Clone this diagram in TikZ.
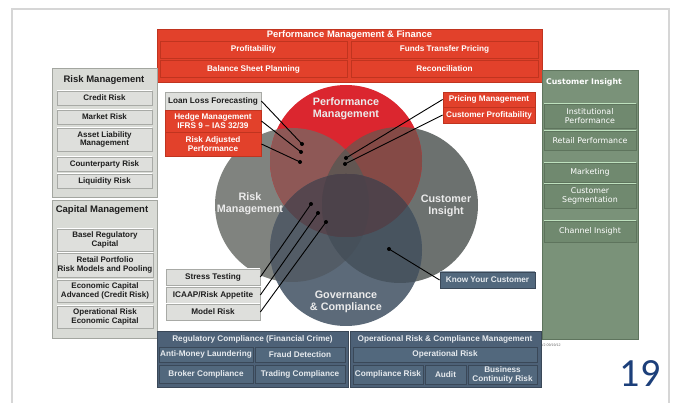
\documentclass[tikz,border=0pt]{standalone}
\usepackage{fontspec}
\setmainfont{Liberation Sans}
\newfontfamily\dvsans{DejaVu Sans}
\newfontfamily\pagefont{Carlito}

% palette
\definecolor{framegrey}{HTML}{D6D6D6}
\definecolor{redbg}{HTML}{E2412B}
\definecolor{redline}{HTML}{C0341F}
\definecolor{greybg}{HTML}{D9DBD6}
\definecolor{greyedge}{HTML}{A3A6A0}
\definecolor{greyfill}{HTML}{DEDFDC}
\definecolor{greyline}{HTML}{A8AAA6}
\definecolor{inkdark}{HTML}{1E1E1E}
\definecolor{greenbg}{HTML}{7A9279}
\definecolor{greenedge}{HTML}{5E745D}
\definecolor{greenfill}{HTML}{70896F}
\definecolor{bluebg}{HTML}{4D6177}
\definecolor{bluefill}{HTML}{52687D}
\definecolor{blueline}{HTML}{3A4858}
\definecolor{bluetext}{HTML}{E6EAEE}
\definecolor{pagenum}{HTML}{1C3F7A}
% Venn regions
\definecolor{vL}{HTML}{80837F}
\definecolor{vR}{HTML}{6C716F}
\definecolor{vT}{HTML}{DB262F}
\definecolor{vB}{HTML}{5C6A79}
\definecolor{vTL}{HTML}{8E5856}
\definecolor{vTR}{HTML}{854A46}
\definecolor{vBL}{HTML}{535C66}
\definecolor{vBR}{HTML}{48545F}
\definecolor{vTLR}{HTML}{625652}
\definecolor{vTLB}{HTML}{56464E}
\definecolor{vTRB}{HTML}{50424A}
\definecolor{vLRB}{HTML}{46505A}
\definecolor{vAll}{HTML}{4C424A}

\tikzset{
  box/.style={rectangle, inner sep=0pt, align=center,
    font=\bfseries\fontsize{8.2}{9}\selectfont},
  topshine/.style={path picture={
    \draw[#1, line width=1.4pt] (path picture bounding box.north west)
      -- (path picture bounding box.north east);}},
  redpanel/.style={rectangle, fill=redbg, draw=redline, line width=0.6pt},
  redbox/.style={box, fill=redbg, draw=redline, line width=0.8pt, text=white},
  greypanel/.style={rectangle, fill=greybg, draw=greyedge, line width=0.7pt},
  greybox/.style={box, fill=greyfill, draw=greyline, line width=0.7pt,
    text=inkdark, topshine=white, font=\bfseries\fontsize{8}{8.9}\selectfont},
  greenpanel/.style={rectangle, fill=greenbg, draw=greenedge, line width=0.7pt},
  greenbox/.style={rectangle, inner sep=0pt, align=center, fill=greenfill,
    draw=greenedge, line width=0.8pt, text=white, topshine=green!15!white!75!greenfill,
    font=\dvsans\fontsize{7.9}{9.2}\selectfont},
  bluepanel/.style={rectangle, fill=bluebg, draw=blueline, line width=0.7pt},
  bluebox/.style={box, fill=bluefill, draw=blueline, line width=0.8pt,
    text=bluetext, topshine=bluefill!60!white},
  paneltitle/.style={inner sep=0pt, font=\bfseries\fontsize{9.5}{10}\selectfont},
  circlabel/.style={inner sep=0pt, align=center, text=white!92!black,
    font=\bfseries\fontsize{10.8}{12.2}\selectfont},
  link/.style={draw=black, line width=0.9pt},
  dot/.style={fill=black},
}

\begin{document}
\begin{tikzpicture}[x=1pt,y=-1pt]
\useasboundingbox (0,0) rectangle (680,403);
\fill[white] (0,0) rectangle (680,403);
\draw[framegrey, line width=1.6pt] (12,406) -- (12,9) -- (669,9) -- (669,406);

% ---------- Venn diagram ----------
\coordinate (cT) at (346,161);
\coordinate (cL) at (292,205);
\coordinate (cR) at (400,205);
\coordinate (cB) at (346,250);
\fill[vL] (cL) circle[radius=77pt];
\fill[vR] (cR) circle[radius=78pt];
\fill[vT] (cT) circle[radius=76pt];
\fill[vB] (cB) circle[radius=76pt];
\begin{scope}
  \clip (cT) circle[radius=76pt];
  \fill[vTL] (cL) circle[radius=77pt];
  \fill[vTR] (cR) circle[radius=78pt];
  \begin{scope}
    \clip (cL) circle[radius=77pt];
    \fill[vTLR] (cR) circle[radius=78pt];
  \end{scope}
\end{scope}
\begin{scope}
  \clip (cB) circle[radius=76pt];
  \fill[vBL] (cL) circle[radius=77pt];
  \fill[vBR] (cR) circle[radius=78pt];
  \begin{scope}
    \clip (cL) circle[radius=77pt];
    \fill[vLRB] (cR) circle[radius=78pt];
  \end{scope}
  \begin{scope}
    \clip (cT) circle[radius=76pt];
    \fill[vTLB] (cL) circle[radius=77pt];
    \fill[vTRB] (cR) circle[radius=78pt];
    \begin{scope}
      \clip (cL) circle[radius=77pt];
      \fill[vAll] (cR) circle[radius=78pt];
    \end{scope}
  \end{scope}
\end{scope}

\node[circlabel] (lblperf) at (346,109) {Performance\\Management};
\node[circlabel] (lblrisk) at (250,204) {Risk\\Management};
\node[circlabel] (lblcust) at (446,206) {Customer\\Insight};
\node[circlabel] (lblgov)  at (346,302) {Governance\\\& Compliance};

% ---------- top: performance management & finance ----------
\node[redpanel, minimum width=385pt, minimum height=53pt] (pmf) at (349.5,55.5) {};
\node[inner sep=0pt, text=white, font=\bfseries\fontsize{9.4}{10}\selectfont] (pmftitle) at (349.5,35.5) {Performance Management \& Finance};
\node[redbox, minimum width=187pt, minimum height=17pt] (prof)  at (253.5,49.5) {Profitability};
\node[redbox, minimum width=187pt, minimum height=17pt] (ftp)   at (444.5,49.5) {Funds Transfer Pricing};
\node[redbox, minimum width=187pt, minimum height=17pt] (bsp)   at (253.5,69) {Balance Sheet Planning};
\node[redbox, minimum width=187pt, minimum height=17pt] (recon) at (444.5,69) {Reconciliation};

% ---------- left: risk management ----------
\node[greypanel, minimum width=105pt, minimum height=129pt] (riskpanel) at (104.5,132.5) {};
\node[paneltitle, text=inkdark] (risktitle) at (104,80.5) {Risk Management};
\node[greybox, minimum width=95pt, minimum height=14pt] (credit)  at (104.5,98) {Credit Risk};
\node[greybox, minimum width=95pt, minimum height=14pt] (market)  at (104.5,117) {Market Risk};
\node[greybox, minimum width=95pt, minimum height=23pt] (alm)     at (104.5,139.5) {Asset Liability\\Management};
\node[greybox, minimum width=95pt, minimum height=14pt] (counter) at (104.5,164) {Counterparty Risk};
\node[greybox, minimum width=95pt, minimum height=14pt] (liquid)  at (104.5,181) {Liquidity Risk};

% ---------- left: capital management ----------
\node[greypanel, minimum width=105pt, minimum height=138pt] (cappanel) at (104.5,269) {};
\node[paneltitle, text=inkdark] (captitle) at (102,210.5) {Capital Management};
\node[greybox, minimum width=96pt, minimum height=22pt] (basel)  at (105,240) {Basel Regulatory\\Capital};
\node[greybox, minimum width=96pt, minimum height=24pt] (retail) at (105,265) {Retail Portfolio\\Risk Models and Pooling};
\node[greybox, minimum width=96pt, minimum height=22pt] (econ)   at (105,291) {Economic Capital\\Advanced (Credit Risk)};
\node[greybox, minimum width=96pt, minimum height=22pt] (opcap)  at (105,317) {Operational Risk\\Economic Capital};

% ---------- right: customer insight ----------
\node[greenpanel, minimum width=96pt, minimum height=269pt] (custpanel) at (590,204.5) {};
\node[anchor=west, inner sep=0pt, text=white, font=\dvsans\bfseries\fontsize{7.8}{8}\selectfont] (custtitle) at (546,82) {Customer Insight};
\node[greenbox, minimum width=92pt, minimum height=24pt] (inst)     at (590,116) {Institutional\\Performance};
\node[greenbox, minimum width=92pt, minimum height=19pt] (retperf)  at (590,140.5) {Retail Performance};
\node[greenbox, minimum width=92pt, minimum height=19pt] (mkt)      at (590,172.5) {Marketing};
\node[greenbox, minimum width=92pt, minimum height=24pt] (custseg)  at (590,196) {Customer\\Segmentation};
\node[greenbox, minimum width=92pt, minimum height=21pt] (channel)  at (590,231.5) {Channel Insight};
\node[anchor=west, inner sep=0pt, text=black!60, font=\fontsize{3.6}{4}\selectfont] (version) at (541,345) {V2 09/19/12};

% ---------- bottom: governance & compliance ----------
\node[bluepanel, minimum width=191pt, minimum height=56pt] (regpanel) at (252.5,359) {};
\node[bluepanel, minimum width=191pt, minimum height=56pt] (oppanel)  at (445.5,359) {};
\node[inner sep=0pt, text=bluetext, font=\bfseries\fontsize{8.2}{9}\selectfont] (regtitle) at (252.5,339.5) {Regulatory Compliance (Financial Crime)};
\node[inner sep=0pt, text=bluetext, font=\bfseries\fontsize{8.2}{9}\selectfont] (optitle)  at (445,339.5) {Operational Risk \& Compliance Management};
\node[bluebox, minimum width=94pt, minimum height=15pt] (aml)      at (206,354.5) {Anti-Money Laundering};
\node[bluebox, minimum width=90pt, minimum height=15pt] (fraud)    at (300,354.5) {Fraud Detection};
\node[bluebox, minimum width=94pt, minimum height=18pt] (broker)   at (206,374) {Broker Compliance};
\node[bluebox, minimum width=90pt, minimum height=18pt] (trading)  at (300,374) {Trading Compliance};
\node[bluebox, minimum width=184pt, minimum height=15pt] (oprisk)  at (445,354.5) {Operational Risk};
\node[bluebox, minimum width=70pt, minimum height=19pt] (comprisk) at (388,374.5) {Compliance Risk};
\node[bluebox, minimum width=41pt, minimum height=19pt] (audit)    at (445.5,374.5) {Audit};
\node[bluebox, minimum width=69pt, minimum height=19pt] (bcr)      at (502.5,374.5) {Business\\Continuity Risk};

% ---------- callout boxes around the circles ----------
\node[greybox, minimum width=96pt, minimum height=18pt, font=\bfseries\fontsize{8.2}{9}\selectfont] (loanloss) at (213,101) {Loan Loss Forecasting};
\node[redbox, minimum width=96pt, minimum height=22pt] (hedge)    at (213,121) {Hedge Management\\IFRS 9 -- IAS 32/39};
\node[redbox, minimum width=96pt, minimum height=24pt] (riskadj)  at (213,144) {Risk Adjusted\\Performance};
\node[redbox, minimum width=92pt, minimum height=15pt] (pricing)  at (489,99.5) {Pricing Management};
\node[redbox, minimum width=92pt, minimum height=16pt] (custprof) at (489,115) {Customer Profitability};
\node[greybox, minimum width=94pt, minimum height=16pt, font=\bfseries\fontsize{8.2}{9}\selectfont] (stress)    at (213,277) {Stress Testing};
\node[greybox, minimum width=94pt, minimum height=16pt, font=\bfseries\fontsize{8.2}{9}\selectfont] (icaap)     at (213,295) {ICAAP/Risk Appetite};
\node[greybox, minimum width=94pt, minimum height=16pt, font=\bfseries\fontsize{8.2}{9}\selectfont] (modelrisk) at (213,312) {Model Risk};
\node[bluebox, minimum width=95pt, minimum height=16pt] (kyc) at (487.5,280) {Know Your Customer};

% ---------- connectors ----------
\coordinate (d1) at (302,144);
\coordinate (d2) at (301,152);
\coordinate (d3) at (300,162);
\coordinate (d4) at (346,158);
\coordinate (d5) at (345,164);
\coordinate (d6) at (311,204);
\coordinate (d7) at (318,213);
\coordinate (d8) at (326,222);
\coordinate (d9) at (389,249);
\draw[link] (loanloss.east) -- (d1);
\draw[link] (hedge.east) -- (d2);
\draw[link] (riskadj.east) -- (d3);
\draw[link] (pricing.west) -- (d4);
\draw[link] (custprof.west) -- (d5);
\draw[link] (stress.east) -- (d6);
\draw[link] (icaap.east) -- (d7);
\draw[link] (modelrisk.east) -- (d8);
\draw[link] (kyc.west) -- (d9);
\foreach \d in {d1,d2,d3,d4,d5,d6,d7,d8,d9}
  \fill[dot] (\d) circle[radius=2pt];

% ---------- page number ----------
\node[inner sep=0pt, text=pagenum, font=\pagefont\fontsize{40}{40}\selectfont] (pageno) at (640,374) {19};
\end{tikzpicture}
\end{document}
